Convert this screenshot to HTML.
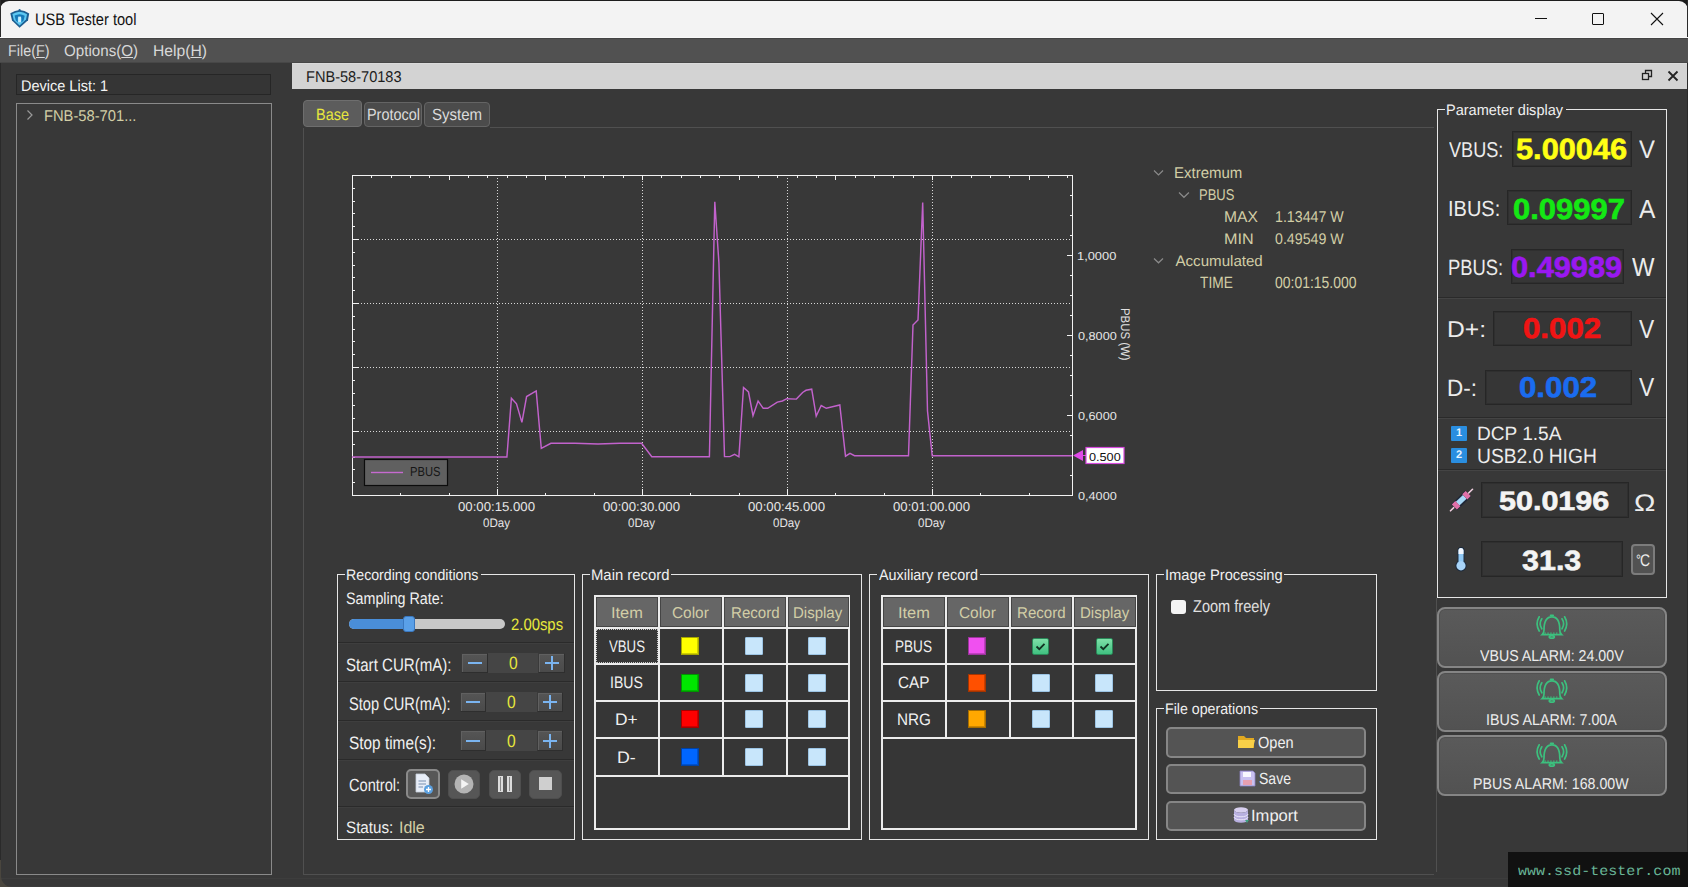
<!DOCTYPE html>
<html><head><meta charset="utf-8">
<style>
*{margin:0;padding:0;box-sizing:border-box}
html,body{width:1688px;height:887px;overflow:hidden;background:#383838;font-family:"Liberation Sans",sans-serif;text-rendering:geometricPrecision}
.a{position:absolute}
.t{position:absolute;white-space:nowrap;line-height:1}
svg{position:absolute;overflow:visible}
</style></head><body>
<div class="a" style="left:0px;top:0px;width:1688px;height:38px;background:#f3f3f3"></div>
<svg style="left:0;top:0" width="1688" height="40"><path d="M0 0H1688V10A9 9 0 0 0 1679 1H9A9 9 0 0 0 0 10Z" fill="#1d1d1d"/></svg>
<div class="a" style="left:0px;top:0px;width:1px;height:887px;background:#2a2a2a"></div>
<div class="a" style="left:1687px;top:0px;width:1px;height:887px;background:#2a2a2a"></div>
<div class="a" style="left:0px;top:878px;width:1688px;height:1px;background:#3d3d3d"></div>
<div class="a" style="left:1px;top:886px;width:1686px;height:1px;background:#3c3c3c"></div>
<svg style="left:0;top:860px" width="12" height="27"><path d="M0 0V27H12A11 11 0 0 1 1 16V0Z" fill="#4a463e"/></svg>
<svg style="left:0;top:0" width="40" height="32" viewBox="0 0 40 32">
<path d="M10.3 13.2Q15 10.2 19.6 9.9Q24.5 10.2 29.2 13.4L28 20.2L19.6 27.8L12 20.6Z" fill="#1d5f92"/>
<path d="M12.4 14Q16 12 19.6 11.8Q23.5 12 27 14.2L26 19.6L19.6 25.6L13.8 20Z" fill="#5cc8f2"/>
<path d="M14.6 15.6Q17 14.4 19.6 14.3Q22.4 14.4 24.7 15.7L23.6 20.4L21.4 22.6V17.6H17.8V22.6L15.8 20.6Z" fill="#1679b8"/>
<rect x="18.2" y="16.6" width="2.8" height="5.6" fill="#c8eeff"/>
<circle cx="19.6" cy="10.2" r="1.1" fill="#1d5f92"/>
</svg>
<div class="t" style="left:34.83px;top:12px;font-size:16.6px;font-weight:normal;font-family:'Liberation Sans',sans-serif;color:#111;transform:scaleX(0.883);transform-origin:0 0;">USB Tester tool</div>
<div class="a" style="left:1535px;top:18px;width:12px;height:1px;background:#111"></div>
<div class="a" style="left:1592px;top:13px;width:12px;height:12px;border:1px solid #111;border-radius:1px"></div>
<svg style="left:1650px;top:12px" width="14" height="14"><path d="M1 1L13 13M13 1L1 13" stroke="#111" stroke-width="1.1"/></svg>
<div class="a" style="left:0px;top:38px;width:1688px;height:25px;background:#515151;border-top:1px solid #434343;border-bottom:1px solid #474747"></div>
<div class="a" style="left:0px;top:37px;width:1688px;height:1px;background:#f8f8f8"></div>
<div class="t" style="left:7.85px;top:44px;font-size:15.8px;font-weight:normal;font-family:'Liberation Sans',sans-serif;color:#d8d8d8;transform:scaleX(0.911);transform-origin:0 0;">File(<u>F</u>)</div>
<div class="t" style="left:64.24px;top:44px;font-size:15.8px;font-weight:normal;font-family:'Liberation Sans',sans-serif;color:#d8d8d8;transform:scaleX(0.959);transform-origin:0 0;">Options(<u>O</u>)</div>
<div class="t" style="left:153.25px;top:44px;font-size:15.8px;font-weight:normal;font-family:'Liberation Sans',sans-serif;color:#d8d8d8;transform:scaleX(0.992);transform-origin:0 0;">Help(<u>H</u>)</div>
<div class="a" style="left:16px;top:74px;width:255px;height:21px;background:#353535;border:1px solid #262626"></div>
<div class="t" style="left:21.34px;top:79px;font-size:15.4px;font-weight:normal;font-family:'Liberation Sans',sans-serif;color:#f4f4f4;transform:scaleX(0.942);transform-origin:0 0;">Device List: 1</div>
<div class="a" style="left:16px;top:103px;width:256px;height:772px;border:1px solid #8a8a8a"></div>
<svg style="left:24.5px;top:109px" width="10" height="12"><path d="M2.5 1.5L7 6L2.5 10.5" fill="none" stroke="#9a9a9a" stroke-width="1.2"/></svg>
<div class="t" style="left:43.82px;top:109px;font-size:15.6px;font-weight:normal;font-family:'Liberation Sans',sans-serif;color:#d2cea6;transform:scaleX(0.944);transform-origin:0 0;">FNB-58-701...</div>
<div class="a" style="left:292px;top:63px;width:1395px;height:26px;background:#d3d3d3;border-top:1px solid #dadada"></div>
<div class="t" style="left:306.23px;top:70px;font-size:15.6px;font-weight:normal;font-family:'Liberation Sans',sans-serif;color:#1c1c1c;transform:scaleX(0.934);transform-origin:0 0;">FNB-58-70183</div>
<svg style="left:1641px;top:69px" width="12" height="12"><rect x="1.5" y="4.5" width="6" height="6" fill="none" stroke="#222" stroke-width="1.3"/><path d="M4.5 4.5V1.5H10.5V7.5H7.5" fill="none" stroke="#222" stroke-width="1.3"/></svg>
<svg style="left:1667px;top:70px" width="12" height="12"><path d="M1.5 1.5L10.5 10.5M10.5 1.5L1.5 10.5" stroke="#222" stroke-width="1.8"/></svg>
<div class="a" style="left:303px;top:100px;width:59px;height:27px;background:#5c5c5c;border:1px solid #6e6e6e;border-radius:4px"></div>
<div class="a" style="left:364px;top:102px;width:58px;height:25px;background:#4b4b4b;border:1px solid #646464;border-radius:4px"></div>
<div class="a" style="left:424px;top:102px;width:66px;height:25px;background:#4b4b4b;border:1px solid #646464;border-radius:4px"></div>
<div class="t" style="left:316.14px;top:107px;font-size:16.3px;font-weight:normal;font-family:'Liberation Sans',sans-serif;color:#e8e83c;transform:scaleX(0.887);transform-origin:0 0;">Base</div>
<div class="t" style="left:367.14px;top:107px;font-size:16.3px;font-weight:normal;font-family:'Liberation Sans',sans-serif;color:#dcdcdc;transform:scaleX(0.886);transform-origin:0 0;">Protocol</div>
<div class="t" style="left:432.25px;top:107px;font-size:16.3px;font-weight:normal;font-family:'Liberation Sans',sans-serif;color:#dcdcdc;transform:scaleX(0.924);transform-origin:0 0;">System</div>
<div class="a" style="left:303px;top:128px;width:1131px;height:747px;border:1px solid #505050;border-right:none;border-top:none"></div>
<div class="a" style="left:490px;top:127px;width:944px;height:1px;background:#505050"></div>
<svg style="left:0;top:0" width="1688" height="887"><path d="M497.5 175V495 M642.5 175V495 M787.5 175V495 M932.5 175V495 M352 239.5H1072 M352 303.5H1072 M352 367.5H1072 M352 431.5H1072" stroke="#d8d8d8" stroke-width="1" stroke-dasharray="1 2" shape-rendering="crispEdges"/><path d="M352 188.5h3 M352 201.5h3 M352 213.5h3 M352 226.5h3 M352 239.5h7 M352 252.5h3 M352 265.5h3 M352 277.5h3 M352 290.5h3 M352 303.5h7 M352 316.5h3 M352 329.5h3 M352 341.5h3 M352 354.5h3 M352 367.5h7 M352 380.5h3 M352 393.5h3 M352 405.5h3 M352 418.5h3 M352 431.5h7 M352 444.5h3 M352 457.5h3 M352 469.5h3 M352 482.5h3 M371.5 175v3 M391.5 175v3 M410.5 175v3 M429.5 175v3 M449.5 175v5 M468.5 175v3 M487.5 175v3 M507.5 175v3 M526.5 175v3 M545.5 175v5 M565.5 175v3 M584.5 175v3 M603.5 175v3 M623.5 175v3 M642.5 175v5 M661.5 175v3 M681.5 175v3 M700.5 175v3 M719.5 175v3 M739.5 175v5 M758.5 175v3 M777.5 175v3 M797.5 175v3 M816.5 175v3 M835.5 175v5 M855.5 175v3 M874.5 175v3 M893.5 175v3 M913.5 175v3 M932.5 175v5 M951.5 175v3 M971.5 175v3 M990.5 175v3 M1009.5 175v3 M1029.5 175v5 M1048.5 175v3 M1067.5 175v3 M400.5 496v-3 M449.5 496v-3 M497.5 496v-7 M545.5 496v-3 M594.5 496v-3 M642.5 496v-7 M690.5 496v-3 M739.5 496v-3 M787.5 496v-7 M835.5 496v-3 M884.5 496v-3 M932.5 496v-7 M980.5 496v-3 M1029.5 496v-3 M1073 195.5h-3 M1073 215.5h-3 M1073 235.5h-3 M1073 255.5h-6 M1073 275.5h-3 M1073 295.5h-3 M1073 315.5h-3 M1073 335.5h-6 M1073 355.5h-3 M1073 375.5h-3 M1073 395.5h-3 M1073 415.5h-6 M1073 435.5h-3 M1073 455.5h-3 M1073 475.5h-3" stroke="#f2f2f2" stroke-width="1" shape-rendering="crispEdges"/><rect x="352.5" y="175.5" width="720" height="320" fill="none" stroke="#f2f2f2" stroke-width="1.2" shape-rendering="crispEdges"/><path d="M352.0 457.0 L506.9 457.0 L511.4 398.2 L516.5 403.8 L521.9 422.4 L526.6 396.5 L536.2 390.9 L541.3 448.4 L550.9 443.3 L575.0 443.2 L598.0 443.9 L620.0 443.3 L641.6 443.3 L651.8 456.8 L709.4 456.8 L714.8 201.7 L718.9 262.6 L724.5 456.6 L729.9 456.6 L734.6 454.4 L738.9 456.8 L743.5 387.5 L748.5 392.0 L753.0 415.7 L758.1 401.0 L763.2 408.3 L767.7 408.3 L777.3 402.1 L782.4 401.0 L786.9 398.7 L796.4 399.1 L802.6 392.5 L806.0 390.3 L811.7 389.2 L816.2 416.2 L821.2 405.5 L826.3 408.3 L839.8 405.0 L845.5 456.2 L850.0 453.4 L854.5 455.7 L908.5 455.7 L913.0 325.0 L918.0 320.0 L922.7 202.6 L927.5 411.0 L932.2 455.7 L1072.0 455.7" fill="none" stroke="#c262cc" stroke-width="1.45" stroke-linejoin="miter"/><path d="M1073 455.5L1083 450V461Z" fill="#e04ae8"/><path d="M1082 455.5H1086" stroke="#e04ae8" stroke-width="1"/><rect x="1086" y="447.5" width="38" height="16" fill="#fff" stroke="#d64ade" stroke-width="1.2"/><rect x="364.5" y="459.5" width="83" height="26" fill="#606060" stroke="#0c0c0c" stroke-width="1.2"/><path d="M371 472.5H403" stroke="#c66ad0" stroke-width="1.4"/></svg>
<div class="t" style="left:409.50px;top:465px;font-size:13.1px;font-weight:normal;font-family:'Liberation Sans',sans-serif;color:#161616;transform:scaleX(0.854);transform-origin:0 0;">PBUS</div>
<div class="t" style="left:1089.09px;top:452px;font-size:11.6px;font-weight:normal;font-family:'Liberation Sans',sans-serif;color:#101010;transform:scaleX(1.093);transform-origin:0 0;">0.500</div>
<div class="t" style="left:457.97px;top:501px;font-size:12.9px;font-weight:normal;font-family:'Liberation Sans',sans-serif;color:#e6e6e6;transform:scaleX(1.023);transform-origin:0 0;">00:00:15.000</div>
<div class="t" style="left:482.94px;top:517px;font-size:12.4px;font-weight:normal;font-family:'Liberation Sans',sans-serif;color:#e6e6e6;transform:scaleX(0.933);transform-origin:0 0;">0Day</div>
<div class="t" style="left:602.97px;top:501px;font-size:12.9px;font-weight:normal;font-family:'Liberation Sans',sans-serif;color:#e6e6e6;transform:scaleX(1.023);transform-origin:0 0;">00:00:30.000</div>
<div class="t" style="left:627.94px;top:517px;font-size:12.4px;font-weight:normal;font-family:'Liberation Sans',sans-serif;color:#e6e6e6;transform:scaleX(0.933);transform-origin:0 0;">0Day</div>
<div class="t" style="left:747.97px;top:501px;font-size:12.9px;font-weight:normal;font-family:'Liberation Sans',sans-serif;color:#e6e6e6;transform:scaleX(1.023);transform-origin:0 0;">00:00:45.000</div>
<div class="t" style="left:772.94px;top:517px;font-size:12.4px;font-weight:normal;font-family:'Liberation Sans',sans-serif;color:#e6e6e6;transform:scaleX(0.933);transform-origin:0 0;">0Day</div>
<div class="t" style="left:892.97px;top:501px;font-size:12.9px;font-weight:normal;font-family:'Liberation Sans',sans-serif;color:#e6e6e6;transform:scaleX(1.023);transform-origin:0 0;">00:01:00.000</div>
<div class="t" style="left:917.94px;top:517px;font-size:12.4px;font-weight:normal;font-family:'Liberation Sans',sans-serif;color:#e6e6e6;transform:scaleX(0.933);transform-origin:0 0;">0Day</div>
<div class="t" style="left:1077.37px;top:251px;font-size:11.6px;font-weight:normal;font-family:'Liberation Sans',sans-serif;color:#e6e6e6;transform:scaleX(1.108);transform-origin:0 0;">1,0000</div>
<div class="t" style="left:1077.89px;top:331px;font-size:11.6px;font-weight:normal;font-family:'Liberation Sans',sans-serif;color:#e6e6e6;transform:scaleX(1.093);transform-origin:0 0;">0,8000</div>
<div class="t" style="left:1077.89px;top:411px;font-size:11.6px;font-weight:normal;font-family:'Liberation Sans',sans-serif;color:#e6e6e6;transform:scaleX(1.093);transform-origin:0 0;">0,6000</div>
<div class="t" style="left:1077.89px;top:491px;font-size:11.6px;font-weight:normal;font-family:'Liberation Sans',sans-serif;color:#e6e6e6;transform:scaleX(1.093);transform-origin:0 0;">0,4000</div>
<div class="t" style="left:1119px;top:308px;font-size:12.5px;color:#e0e0e0;transform-origin:0 0;transform:translate(12px,0) rotate(90deg) scaleX(0.91)">PBUS (W)</div>
<svg style="left:1153.2px;top:168.5px" width="11" height="7.4"><path d="M1 1.5L5.5 5.9L10 1.5" fill="none" stroke="#8a8a8a" stroke-width="1.2"/></svg>
<svg style="left:1178px;top:190.8px" width="11.9" height="7.8"><path d="M1 1.5L5.95 6.3L10.9 1.5" fill="none" stroke="#8a8a8a" stroke-width="1.2"/></svg>
<svg style="left:1153.2px;top:256.5px" width="11" height="7.3"><path d="M1 1.5L5.5 5.8L10 1.5" fill="none" stroke="#8a8a8a" stroke-width="1.2"/></svg>
<div class="t" style="left:1174.30px;top:166px;font-size:15.6px;font-weight:normal;font-family:'Liberation Sans',sans-serif;color:#d2cea6;transform:scaleX(0.962);transform-origin:0 0;">Extremum</div>
<div class="t" style="left:1199.36px;top:188px;font-size:15.6px;font-weight:normal;font-family:'Liberation Sans',sans-serif;color:#d2cea6;transform:scaleX(0.833);transform-origin:0 0;">PBUS</div>
<div class="t" style="left:1224.06px;top:210px;font-size:15.6px;font-weight:normal;font-family:'Liberation Sans',sans-serif;color:#d2cea6;">MAX</div>
<div class="t" style="left:1274.86px;top:210px;font-size:15.6px;font-weight:normal;font-family:'Liberation Sans',sans-serif;color:#d2cea6;transform:scaleX(0.911);transform-origin:0 0;">1.13447 W</div>
<div class="t" style="left:1224.01px;top:232px;font-size:15.4px;font-weight:normal;font-family:'Liberation Sans',sans-serif;color:#d2cea6;transform:scaleX(1.050);transform-origin:0 0;">MIN</div>
<div class="t" style="left:1274.83px;top:232px;font-size:15.4px;font-weight:normal;font-family:'Liberation Sans',sans-serif;color:#d2cea6;transform:scaleX(0.923);transform-origin:0 0;">0.49549 W</div>
<div class="t" style="left:1175.50px;top:254px;font-size:15.1px;font-weight:normal;font-family:'Liberation Sans',sans-serif;color:#d2cea6;">Accumulated</div>
<div class="t" style="left:1200.13px;top:275px;font-size:16.3px;font-weight:normal;font-family:'Liberation Sans',sans-serif;color:#d2cea6;transform:scaleX(0.843);transform-origin:0 0;">TIME</div>
<div class="t" style="left:1274.84px;top:275px;font-size:16.3px;font-weight:normal;font-family:'Liberation Sans',sans-serif;color:#d2cea6;transform:scaleX(0.857);transform-origin:0 0;">00:01:15.000</div>
<div class="a" style="left:1437px;top:109px;width:230px;height:489px;border:1px solid #e6e6e6"></div>
<div class="a" style="left:1445px;top:107px;width:120.90000000000009px;height:5px;background:#383838"></div>
<div class="t" style="left:1445.84px;top:103px;font-size:15.1px;font-weight:normal;font-family:'Liberation Sans',sans-serif;color:#f0f0f0;transform:scaleX(0.962);transform-origin:0 0;">Parameter display</div>
<div class="a" style="left:1438px;top:297px;width:228px;height:1px;background:#2a2a2a"></div>
<div class="a" style="left:1438px;top:298px;width:228px;height:1px;background:#444"></div>
<div class="a" style="left:1438px;top:417px;width:228px;height:1px;background:#2a2a2a"></div>
<div class="a" style="left:1438px;top:418px;width:228px;height:1px;background:#444"></div>
<div class="a" style="left:1438px;top:469px;width:228px;height:1px;background:#2a2a2a"></div>
<div class="a" style="left:1438px;top:470px;width:228px;height:1px;background:#444"></div>
<div class="t" style="left:1449.42px;top:140px;font-size:21.5px;font-weight:normal;font-family:'Liberation Sans',sans-serif;color:#ececec;transform:scaleX(0.842);transform-origin:0 0;">VBUS:</div>
<div class="a" style="left:1512px;top:131px;width:120px;height:36px;background:#363636;border:1px solid #262626;box-shadow:inset 0 0 0 1px #2f2f2f"></div>
<div class="t" style="left:1515.78px;top:136px;font-size:29.2px;font-weight:bold;font-family:'Liberation Sans',sans-serif;color:#ffff14;transform:scaleX(1.054);transform-origin:0 0;-webkit-text-stroke:0.6px #ffff14">5.00046</div>
<div class="t" style="left:1638.96px;top:138px;font-size:25.4px;font-weight:normal;font-family:'Liberation Sans',sans-serif;color:#ececec;transform:scaleX(0.939);transform-origin:0 0;">V</div>
<div class="t" style="left:1447.80px;top:198px;font-size:21.9px;font-weight:normal;font-family:'Liberation Sans',sans-serif;color:#ececec;transform:scaleX(0.913);transform-origin:0 0;">IBUS:</div>
<div class="a" style="left:1507px;top:190px;width:125px;height:35px;background:#363636;border:1px solid #262626;box-shadow:inset 0 0 0 1px #2f2f2f"></div>
<div class="t" style="left:1513.16px;top:196px;font-size:29.1px;font-weight:bold;font-family:'Liberation Sans',sans-serif;color:#14e814;transform:scaleX(1.064);transform-origin:0 0;-webkit-text-stroke:0.6px #14e814">0.09997</div>
<div class="t" style="left:1639.20px;top:196px;font-size:26.2px;font-weight:normal;font-family:'Liberation Sans',sans-serif;color:#ececec;transform:scaleX(0.937);transform-origin:0 0;">A</div>
<div class="t" style="left:1448.13px;top:257px;font-size:22.1px;font-weight:normal;font-family:'Liberation Sans',sans-serif;color:#ececec;transform:scaleX(0.833);transform-origin:0 0;">PBUS:</div>
<div class="a" style="left:1511px;top:249px;width:113px;height:35px;background:#363636;border:1px solid #262626;box-shadow:inset 0 0 0 1px #2f2f2f"></div>
<div class="t" style="left:1511.27px;top:254px;font-size:29.1px;font-weight:bold;font-family:'Liberation Sans',sans-serif;color:#9a18f0;transform:scaleX(1.057);transform-origin:0 0;-webkit-text-stroke:0.6px #9a18f0">0.49989</div>
<div class="t" style="left:1632.30px;top:254px;font-size:26.2px;font-weight:normal;font-family:'Liberation Sans',sans-serif;color:#ececec;transform:scaleX(0.910);transform-origin:0 0;">W</div>
<div class="t" style="left:1447.23px;top:318px;font-size:22.8px;font-weight:normal;font-family:'Liberation Sans',sans-serif;color:#ececec;transform:scaleX(1.081);transform-origin:0 0;">D+:</div>
<div class="a" style="left:1493px;top:311px;width:139px;height:35px;background:#363636;border:1px solid #262626;box-shadow:inset 0 0 0 1px #2f2f2f"></div>
<div class="t" style="left:1523.15px;top:315px;font-size:28.5px;font-weight:bold;font-family:'Liberation Sans',sans-serif;color:#f01414;transform:scaleX(1.096);transform-origin:0 0;-webkit-text-stroke:0.6px #f01414">0.002</div>
<div class="t" style="left:1638.77px;top:316px;font-size:26.0px;font-weight:normal;font-family:'Liberation Sans',sans-serif;color:#ececec;transform:scaleX(0.876);transform-origin:0 0;">V</div>
<div class="t" style="left:1447.40px;top:377px;font-size:23.5px;font-weight:normal;font-family:'Liberation Sans',sans-serif;color:#ececec;transform:scaleX(0.957);transform-origin:0 0;">D-:</div>
<div class="a" style="left:1485px;top:370px;width:147px;height:35px;background:#363636;border:1px solid #262626;box-shadow:inset 0 0 0 1px #2f2f2f"></div>
<div class="t" style="left:1518.95px;top:374px;font-size:28.5px;font-weight:bold;font-family:'Liberation Sans',sans-serif;color:#1a6cf0;transform:scaleX(1.096);transform-origin:0 0;-webkit-text-stroke:0.6px #1a6cf0">0.002</div>
<div class="t" style="left:1638.77px;top:374px;font-size:26.0px;font-weight:normal;font-family:'Liberation Sans',sans-serif;color:#ececec;transform:scaleX(0.876);transform-origin:0 0;">V</div>
<div class="a" style="left:1451px;top:426px;width:16px;height:15px;background:#2a8ee0;border-radius:1px"></div>
<div class="t" style="left:1451px;top:428px;width:16px;text-align:center;font-size:11px;font-weight:bold;color:#e8f4ff">1</div>
<div class="a" style="left:1451px;top:448px;width:16px;height:15px;background:#2a8ee0;border-radius:1px"></div>
<div class="t" style="left:1451px;top:450px;width:16px;text-align:center;font-size:11px;font-weight:bold;color:#e8f4ff">2</div>
<div class="t" style="left:1476.77px;top:425px;font-size:19.3px;font-weight:normal;font-family:'Liberation Sans',sans-serif;color:#ececec;transform:scaleX(0.989);transform-origin:0 0;">DCP 1.5A</div>
<div class="t" style="left:1476.76px;top:447px;font-size:20.6px;font-weight:normal;font-family:'Liberation Sans',sans-serif;color:#ececec;transform:scaleX(0.935);transform-origin:0 0;">USB2.0 HIGH</div>
<svg style="left:1444px;top:484px" width="36" height="36" viewBox="0 0 36 36">
<path d="M6.5 26.8L28.5 5.3" stroke="#f0d0e0" stroke-width="1.6" stroke-linecap="round"/>
<path d="M10.2 23.2L24.2 9.6" stroke="#202838" stroke-width="8.5"/>
<path d="M13.6 19.7L20.8 12.9" stroke="#a8d8f8" stroke-width="5.2"/>
<path d="M10.4 23L13.8 19.6M20.8 12.9L24.2 9.5" stroke="#e070a8" stroke-width="7.2"/>
</svg>
<div class="a" style="left:1481px;top:482px;width:148px;height:36px;background:#363636;border:1px solid #262626;box-shadow:inset 0 0 0 1px #2f2f2f"></div>
<div class="t" style="left:1499.08px;top:488px;font-size:26.5px;font-weight:bold;font-family:'Liberation Sans',sans-serif;color:#f4f4f4;transform:scaleX(1.151);transform-origin:0 0;-webkit-text-stroke:0.6px #f4f4f4">50.0196</div>
<div class="t" style="left:1634.45px;top:492px;font-size:23.9px;font-weight:normal;font-family:'Liberation Sans',sans-serif;color:#ececec;transform:scaleX(1.199);transform-origin:0 0;">Ω</div>
<svg style="left:1454px;top:546px" width="14" height="27" viewBox="0 0 14 27">
<rect x="3.5" y="1" width="7" height="18" rx="3.5" fill="#1c2a3c"/><circle cx="7" cy="19.8" r="5.6" fill="#1c2a3c"/>
<rect x="4.5" y="2" width="5" height="16" rx="2.5" fill="#90c8f4"/>
<path d="M4.5 8V4.5A2.5 2.5 0 0 1 9.5 4.5V8Z" fill="#f4f8ff"/>
<circle cx="7" cy="19.8" r="4.6" fill="#a8d4f8"/>
</svg>
<div class="a" style="left:1481px;top:541px;width:142px;height:36px;background:#363636;border:1px solid #262626;box-shadow:inset 0 0 0 1px #2f2f2f"></div>
<div class="t" style="left:1522.09px;top:547px;font-size:27.9px;font-weight:bold;font-family:'Liberation Sans',sans-serif;color:#f4f4f4;transform:scaleX(1.092);transform-origin:0 0;-webkit-text-stroke:0.6px #f4f4f4">31.3</div>
<div class="a" style="left:1631px;top:544px;width:24px;height:31px;background:#525252;border:2px solid #7c7c7c;border-radius:4px"></div>
<div class="t" style="left:1635.5px;top:552px;font-size:17px;color:#ececec;transform:scaleX(0.82);transform-origin:0 0"><span style="font-size:15px;vertical-align:1px;margin-right:-1px">°</span>C</div>
<div class="a" style="left:1437px;top:607px;width:230px;height:61px;background:linear-gradient(#5a5a5a,#525252);border:2px solid #858585;border-radius:8px;box-shadow:inset 0 0 0 1px #505050"></div>
<svg style="left:1532px;top:611px" width="40" height="30" viewBox="0 0 40 30">
<g fill="none" stroke="#3cc07e" stroke-width="1.7" stroke-linecap="round">
<path d="M12 19C12 10 14.2 5.9 19.9 5.9C25.6 5.9 27.8 10 27.8 19Q27.8 22 29.6 23.6H10.2Q12 22 12 19"/>
<path d="M18.6 4.4H21.2"/>
<ellipse cx="19.8" cy="25.9" rx="2.5" ry="1.3"/>
<path d="M7.2 5.8Q3 12.8 7.2 20"/><path d="M9.8 7.8Q6.6 12.8 9.8 17.8"/>
<path d="M32.6 5.8Q36.8 12.8 32.6 20"/><path d="M30 7.8Q33.2 12.8 30 17.8"/>
</g><path d="M12.5 22.2H27.5" stroke="#3cc07e" stroke-width="1.3" stroke-dasharray="1.3 1.6"/></svg>
<div class="t" style="left:1479.86px;top:649px;font-size:15.7px;font-weight:normal;font-family:'Liberation Sans',sans-serif;color:#ececec;transform:scaleX(0.905);transform-origin:0 0;">VBUS ALARM: 24.00V</div>
<div class="a" style="left:1437px;top:671px;width:230px;height:61px;background:linear-gradient(#5a5a5a,#525252);border:2px solid #858585;border-radius:8px;box-shadow:inset 0 0 0 1px #505050"></div>
<svg style="left:1532px;top:675px" width="40" height="30" viewBox="0 0 40 30">
<g fill="none" stroke="#3cc07e" stroke-width="1.7" stroke-linecap="round">
<path d="M12 19C12 10 14.2 5.9 19.9 5.9C25.6 5.9 27.8 10 27.8 19Q27.8 22 29.6 23.6H10.2Q12 22 12 19"/>
<path d="M18.6 4.4H21.2"/>
<ellipse cx="19.8" cy="25.9" rx="2.5" ry="1.3"/>
<path d="M7.2 5.8Q3 12.8 7.2 20"/><path d="M9.8 7.8Q6.6 12.8 9.8 17.8"/>
<path d="M32.6 5.8Q36.8 12.8 32.6 20"/><path d="M30 7.8Q33.2 12.8 30 17.8"/>
</g><path d="M12.5 22.2H27.5" stroke="#3cc07e" stroke-width="1.3" stroke-dasharray="1.3 1.6"/></svg>
<div class="t" style="left:1486.32px;top:713px;font-size:15.7px;font-weight:normal;font-family:'Liberation Sans',sans-serif;color:#ececec;transform:scaleX(0.909);transform-origin:0 0;">IBUS ALARM: 7.00A</div>
<div class="a" style="left:1437px;top:735px;width:230px;height:61px;background:linear-gradient(#5a5a5a,#525252);border:2px solid #858585;border-radius:8px;box-shadow:inset 0 0 0 1px #505050"></div>
<svg style="left:1532px;top:739px" width="40" height="30" viewBox="0 0 40 30">
<g fill="none" stroke="#3cc07e" stroke-width="1.7" stroke-linecap="round">
<path d="M12 19C12 10 14.2 5.9 19.9 5.9C25.6 5.9 27.8 10 27.8 19Q27.8 22 29.6 23.6H10.2Q12 22 12 19"/>
<path d="M18.6 4.4H21.2"/>
<ellipse cx="19.8" cy="25.9" rx="2.5" ry="1.3"/>
<path d="M7.2 5.8Q3 12.8 7.2 20"/><path d="M9.8 7.8Q6.6 12.8 9.8 17.8"/>
<path d="M32.6 5.8Q36.8 12.8 32.6 20"/><path d="M30 7.8Q33.2 12.8 30 17.8"/>
</g><path d="M12.5 22.2H27.5" stroke="#3cc07e" stroke-width="1.3" stroke-dasharray="1.3 1.6"/></svg>
<div class="t" style="left:1473.26px;top:777px;font-size:15.7px;font-weight:normal;font-family:'Liberation Sans',sans-serif;color:#ececec;transform:scaleX(0.906);transform-origin:0 0;">PBUS ALARM: 168.00W</div>
<div class="a" style="left:1436px;top:598px;width:1px;height:274px;background:#505050"></div>
<div class="a" style="left:1508px;top:852px;width:180px;height:35px;background:#111"></div>
<div class="t" style="left:1517.55px;top:866px;font-size:13.8px;font-weight:normal;font-family:'Liberation Mono',monospace;color:#68b496;transform:scaleX(1.090);transform-origin:0 0;">www.ssd-tester.com</div>
<div class="a" style="left:337px;top:574px;width:238px;height:266px;border:1px solid #e6e6e6"></div>
<div class="a" style="left:345px;top:572px;width:135.8px;height:5px;background:#383838"></div>
<div class="t" style="left:345.87px;top:568px;font-size:15.3px;font-weight:normal;font-family:'Liberation Sans',sans-serif;color:#f0f0f0;transform:scaleX(0.927);transform-origin:0 0;">Recording conditions</div>
<div class="t" style="left:346.29px;top:591px;font-size:16.6px;font-weight:normal;font-family:'Liberation Sans',sans-serif;color:#f0f0f0;transform:scaleX(0.861);transform-origin:0 0;">Sampling Rate:</div>
<div class="a" style="left:349px;top:619px;width:156px;height:10px;background:#c8c8c8;border-radius:5px"></div>
<div class="a" style="left:349px;top:619px;width:60px;height:10px;background:#4a8ed8;border-radius:5px 0 0 5px"></div>
<div class="a" style="left:403px;top:616px;width:12px;height:16px;background:#5aa0e8;border:1px solid #3a78c0;border-radius:3px"></div>
<div class="t" style="left:511.36px;top:617px;font-size:16.6px;font-weight:normal;font-family:'Liberation Sans',sans-serif;color:#e8e83c;transform:scaleX(0.896);transform-origin:0 0;">2.00sps</div>
<div class="a" style="left:338px;top:642px;width:236px;height:1px;background:#2a2a2a"></div>
<div class="a" style="left:338px;top:643px;width:236px;height:1px;background:#3e3e3e"></div>
<div class="a" style="left:338px;top:681px;width:236px;height:1px;background:#2a2a2a"></div>
<div class="a" style="left:338px;top:682px;width:236px;height:1px;background:#3e3e3e"></div>
<div class="a" style="left:338px;top:720px;width:236px;height:1px;background:#2a2a2a"></div>
<div class="a" style="left:338px;top:721px;width:236px;height:1px;background:#3e3e3e"></div>
<div class="a" style="left:338px;top:759px;width:236px;height:1px;background:#2a2a2a"></div>
<div class="a" style="left:338px;top:760px;width:236px;height:1px;background:#3e3e3e"></div>
<div class="a" style="left:338px;top:806px;width:236px;height:1px;background:#2a2a2a"></div>
<div class="a" style="left:338px;top:807px;width:236px;height:1px;background:#3e3e3e"></div>
<div class="t" style="left:346.25px;top:656px;font-size:18.0px;font-weight:normal;font-family:'Liberation Sans',sans-serif;color:#f0f0f0;transform:scaleX(0.837);transform-origin:0 0;">Start CUR(mA):</div>
<div class="a" style="left:461px;top:653px;width:104px;height:20px;background:#454545"></div>
<div class="a" style="left:461px;top:653px;width:27px;height:20px;background:linear-gradient(#555,#4a4a4a);border:1px solid #3a3a3a;border-right-color:#2e2e2e;border-bottom-color:#2e2e2e;box-shadow:inset 1px 1px 0 #606060"></div>
<svg style="left:464.5px;top:653.0px" width="20" height="20"><path d="M3 10H17" stroke="#7ab4f0" stroke-width="2"/></svg>
<div class="a" style="left:538px;top:653px;width:27px;height:20px;background:linear-gradient(#555,#4a4a4a);border:1px solid #3a3a3a;border-right-color:#2e2e2e;border-bottom-color:#2e2e2e;box-shadow:inset 1px 1px 0 #606060"></div>
<svg style="left:541.5px;top:653.0px" width="20" height="20"><path d="M3 10H17M10 3V17" stroke="#7ab4f0" stroke-width="2"/></svg>
<div class="t" style="left:508.88px;top:655px;font-size:17.9px;font-weight:normal;font-family:'Liberation Sans',sans-serif;color:#e8e83c;transform:scaleX(0.873);transform-origin:0 0;">0</div>
<div class="t" style="left:348.87px;top:695px;font-size:18.2px;font-weight:normal;font-family:'Liberation Sans',sans-serif;color:#f0f0f0;transform:scaleX(0.805);transform-origin:0 0;">Stop CUR(mA):</div>
<div class="a" style="left:460px;top:692px;width:103px;height:20px;background:#454545"></div>
<div class="a" style="left:460px;top:692px;width:26px;height:20px;background:linear-gradient(#555,#4a4a4a);border:1px solid #3a3a3a;border-right-color:#2e2e2e;border-bottom-color:#2e2e2e;box-shadow:inset 1px 1px 0 #606060"></div>
<svg style="left:463.0px;top:692.0px" width="20" height="20"><path d="M3 10H17" stroke="#7ab4f0" stroke-width="2"/></svg>
<div class="a" style="left:537px;top:692px;width:26px;height:20px;background:linear-gradient(#555,#4a4a4a);border:1px solid #3a3a3a;border-right-color:#2e2e2e;border-bottom-color:#2e2e2e;box-shadow:inset 1px 1px 0 #606060"></div>
<svg style="left:540.0px;top:692.0px" width="20" height="20"><path d="M3 10H17M10 3V17" stroke="#7ab4f0" stroke-width="2"/></svg>
<div class="t" style="left:506.88px;top:694px;font-size:17.9px;font-weight:normal;font-family:'Liberation Sans',sans-serif;color:#e8e83c;transform:scaleX(0.873);transform-origin:0 0;">0</div>
<div class="t" style="left:348.83px;top:734px;font-size:18.0px;font-weight:normal;font-family:'Liberation Sans',sans-serif;color:#f0f0f0;transform:scaleX(0.854);transform-origin:0 0;">Stop time(s):</div>
<div class="a" style="left:460px;top:730px;width:103px;height:21px;background:#454545"></div>
<div class="a" style="left:460px;top:730px;width:26px;height:21px;background:linear-gradient(#555,#4a4a4a);border:1px solid #3a3a3a;border-right-color:#2e2e2e;border-bottom-color:#2e2e2e;box-shadow:inset 1px 1px 0 #606060"></div>
<svg style="left:463.0px;top:730.5px" width="20" height="20"><path d="M3 10H17" stroke="#7ab4f0" stroke-width="2"/></svg>
<div class="a" style="left:537px;top:730px;width:26px;height:21px;background:linear-gradient(#555,#4a4a4a);border:1px solid #3a3a3a;border-right-color:#2e2e2e;border-bottom-color:#2e2e2e;box-shadow:inset 1px 1px 0 #606060"></div>
<svg style="left:540.0px;top:730.5px" width="20" height="20"><path d="M3 10H17M10 3V17" stroke="#7ab4f0" stroke-width="2"/></svg>
<div class="t" style="left:506.88px;top:733px;font-size:17.9px;font-weight:normal;font-family:'Liberation Sans',sans-serif;color:#e8e83c;transform:scaleX(0.873);transform-origin:0 0;">0</div>
<div class="t" style="left:348.87px;top:777px;font-size:17.6px;font-weight:normal;font-family:'Liberation Sans',sans-serif;color:#f0f0f0;transform:scaleX(0.830);transform-origin:0 0;">Control:</div>
<div class="a" style="left:406px;top:769px;width:34px;height:30px;background:#575757;border:2px solid #8a8a8a;border-radius:5px"></div>
<div class="a" style="left:448px;top:770px;width:32px;height:29px;background:#565656;border:1px solid #4e4e4e;border-radius:5px"></div>
<div class="a" style="left:489px;top:770px;width:32px;height:29px;background:#565656;border:1px solid #4e4e4e;border-radius:5px"></div>
<div class="a" style="left:529px;top:770px;width:33px;height:29px;background:#565656;border:1px solid #4e4e4e;border-radius:5px"></div>
<svg style="left:413px;top:772px" width="22" height="24" viewBox="0 0 22 24">
<path d="M3 2H12L16 6V20H3Z" fill="#e8eef8" stroke="#c8d0dc" stroke-width="0.8"/>
<path d="M5.5 9H13M5.5 12H13M5.5 15H10" stroke="#7890b0" stroke-width="1.2"/>
<circle cx="15.5" cy="17.5" r="4.5" fill="#5ba0e0"/><path d="M15.5 15V20M13 17.5H18" stroke="#fff" stroke-width="1.3"/>
</svg>
<svg style="left:453px;top:774px" width="22" height="20"><circle cx="11" cy="10" r="9.5" fill="#b4b4b4"/><path d="M8.2 5.2L15.8 10L8.2 14.8Z" fill="#f4f4f4"/></svg>
<svg style="left:495px;top:775px" width="20" height="18"><rect x="3" y="1" width="5" height="16" fill="#dcdcdc"/><rect x="12" y="1" width="5" height="16" fill="#dcdcdc"/><path d="M5.5 2V16M14.5 2V16" stroke="#888" stroke-width="1"/></svg>
<div class="a" style="left:539px;top:777px;width:13px;height:13px;background:#cfcfcf"></div>
<div class="t" style="left:346.24px;top:820px;font-size:16.6px;font-weight:normal;font-family:'Liberation Sans',sans-serif;color:#f0f0f0;transform:scaleX(0.915);transform-origin:0 0;">Status:</div>
<div class="t" style="left:398.86px;top:820px;font-size:16.6px;font-weight:normal;font-family:'Liberation Sans',sans-serif;color:#d2cea6;transform:scaleX(0.961);transform-origin:0 0;">Idle</div>
<div class="a" style="left:582px;top:574px;width:280px;height:266px;border:1px solid #e6e6e6"></div>
<div class="a" style="left:590px;top:572px;width:81.20000000000005px;height:5px;background:#383838"></div>
<div class="t" style="left:590.81px;top:568px;font-size:15.3px;font-weight:normal;font-family:'Liberation Sans',sans-serif;color:#f0f0f0;transform:scaleX(0.971);transform-origin:0 0;">Main record</div>
<div class="a" style="left:594px;top:595px;width:256px;height:235px;border:2px solid #ececec;background:#363636"></div>
<div class="a" style="left:596px;top:597px;width:62px;height:30px;background:#666;border:1px solid #454545"></div>
<div class="a" style="left:660px;top:597px;width:62px;height:30px;background:#666;border:1px solid #454545"></div>
<div class="a" style="left:724px;top:597px;width:62px;height:30px;background:#666;border:1px solid #454545"></div>
<div class="a" style="left:788px;top:597px;width:61px;height:30px;background:#666;border:1px solid #454545"></div>
<div class="a" style="left:658px;top:596px;width:2px;height:180px;background:#ececec"></div>
<div class="a" style="left:722px;top:596px;width:2px;height:180px;background:#ececec"></div>
<div class="a" style="left:786px;top:596px;width:2px;height:180px;background:#ececec"></div>
<div class="a" style="left:594px;top:627px;width:256px;height:2px;background:#ececec"></div>
<div class="a" style="left:594px;top:663px;width:256px;height:2px;background:#ececec"></div>
<div class="a" style="left:594px;top:700px;width:256px;height:2px;background:#ececec"></div>
<div class="a" style="left:594px;top:737px;width:256px;height:2px;background:#ececec"></div>
<div class="a" style="left:594px;top:775px;width:256px;height:2px;background:#ececec"></div>
<div class="t" style="left:610.82px;top:606px;font-size:15.7px;font-weight:normal;font-family:'Liberation Sans',sans-serif;color:#d2cea6;transform:scaleX(1.046);transform-origin:0 0;">Item</div>
<div class="t" style="left:672.28px;top:606px;font-size:15.7px;font-weight:normal;font-family:'Liberation Sans',sans-serif;color:#d2cea6;transform:scaleX(0.981);transform-origin:0 0;">Color</div>
<div class="t" style="left:730.59px;top:606px;font-size:15.7px;font-weight:normal;font-family:'Liberation Sans',sans-serif;color:#d2cea6;transform:scaleX(0.960);transform-origin:0 0;">Record</div>
<div class="t" style="left:793.25px;top:606px;font-size:15.7px;font-weight:normal;font-family:'Liberation Sans',sans-serif;color:#d2cea6;transform:scaleX(0.957);transform-origin:0 0;">Display</div>
<div class="t" style="left:609.22px;top:639px;font-size:16.6px;font-weight:normal;font-family:'Liberation Sans',sans-serif;color:#f0f0f0;transform:scaleX(0.796);transform-origin:0 0;">VBUS</div>
<div class="a" style="left:681px;top:637px;width:18px;height:18px;background:#ffff00;border:1px solid rgba(0,0,0,0.35);box-shadow:inset -1px -1px 0 rgba(0,0,0,0.2)"></div>
<div class="a" style="left:745px;top:637px;width:18px;height:18px;background:#c8e6fb;border:1px solid #9cc4e4;border-radius:1px"></div>
<div class="a" style="left:808px;top:637px;width:18px;height:18px;background:#c8e6fb;border:1px solid #9cc4e4;border-radius:1px"></div>
<div class="t" style="left:610.23px;top:675px;font-size:16.6px;font-weight:normal;font-family:'Liberation Sans',sans-serif;color:#f0f0f0;transform:scaleX(0.849);transform-origin:0 0;">IBUS</div>
<div class="a" style="left:681px;top:674px;width:18px;height:18px;background:#00e600;border:1px solid rgba(0,0,0,0.35);box-shadow:inset -1px -1px 0 rgba(0,0,0,0.2)"></div>
<div class="a" style="left:745px;top:674px;width:18px;height:18px;background:#c8e6fb;border:1px solid #9cc4e4;border-radius:1px"></div>
<div class="a" style="left:808px;top:674px;width:18px;height:18px;background:#c8e6fb;border:1px solid #9cc4e4;border-radius:1px"></div>
<div class="t" style="left:615.36px;top:712px;font-size:16.6px;font-weight:normal;font-family:'Liberation Sans',sans-serif;color:#f0f0f0;transform:scaleX(1.047);transform-origin:0 0;">D+</div>
<div class="a" style="left:681px;top:710px;width:18px;height:18px;background:#ff0000;border:1px solid rgba(0,0,0,0.35);box-shadow:inset -1px -1px 0 rgba(0,0,0,0.2)"></div>
<div class="a" style="left:745px;top:710px;width:18px;height:18px;background:#c8e6fb;border:1px solid #9cc4e4;border-radius:1px"></div>
<div class="a" style="left:808px;top:710px;width:18px;height:18px;background:#c8e6fb;border:1px solid #9cc4e4;border-radius:1px"></div>
<div class="t" style="left:617.33px;top:750px;font-size:16.6px;font-weight:normal;font-family:'Liberation Sans',sans-serif;color:#f0f0f0;transform:scaleX(1.069);transform-origin:0 0;">D-</div>
<div class="a" style="left:681px;top:748px;width:18px;height:18px;background:#0066ff;border:1px solid rgba(0,0,0,0.35);box-shadow:inset -1px -1px 0 rgba(0,0,0,0.2)"></div>
<div class="a" style="left:745px;top:748px;width:18px;height:18px;background:#c8e6fb;border:1px solid #9cc4e4;border-radius:1px"></div>
<div class="a" style="left:808px;top:748px;width:18px;height:18px;background:#c8e6fb;border:1px solid #9cc4e4;border-radius:1px"></div>
<div class="a" style="left:596px;top:629px;width:62px;height:34px;border:1px dotted #c8c8c8"></div>
<div class="a" style="left:869px;top:574px;width:280px;height:266px;border:1px solid #e6e6e6"></div>
<div class="a" style="left:877px;top:572px;width:103px;height:5px;background:#383838"></div>
<div class="t" style="left:879.00px;top:568px;font-size:15.3px;font-weight:normal;font-family:'Liberation Sans',sans-serif;color:#f0f0f0;transform:scaleX(0.939);transform-origin:0 0;">Auxiliary record</div>
<div class="a" style="left:881px;top:595px;width:256px;height:235px;border:2px solid #ececec;background:#363636"></div>
<div class="a" style="left:883px;top:597px;width:62px;height:30px;background:#666;border:1px solid #454545"></div>
<div class="a" style="left:947px;top:597px;width:62px;height:30px;background:#666;border:1px solid #454545"></div>
<div class="a" style="left:1011px;top:597px;width:61px;height:30px;background:#666;border:1px solid #454545"></div>
<div class="a" style="left:1074px;top:597px;width:62px;height:30px;background:#666;border:1px solid #454545"></div>
<div class="a" style="left:945px;top:596px;width:2px;height:142px;background:#ececec"></div>
<div class="a" style="left:1009px;top:596px;width:2px;height:142px;background:#ececec"></div>
<div class="a" style="left:1072px;top:596px;width:2px;height:142px;background:#ececec"></div>
<div class="a" style="left:881px;top:627px;width:256px;height:2px;background:#ececec"></div>
<div class="a" style="left:881px;top:663px;width:256px;height:2px;background:#ececec"></div>
<div class="a" style="left:881px;top:700px;width:256px;height:2px;background:#ececec"></div>
<div class="a" style="left:881px;top:737px;width:256px;height:2px;background:#ececec"></div>
<div class="t" style="left:897.82px;top:606px;font-size:15.7px;font-weight:normal;font-family:'Liberation Sans',sans-serif;color:#d2cea6;transform:scaleX(1.046);transform-origin:0 0;">Item</div>
<div class="t" style="left:959.28px;top:606px;font-size:15.7px;font-weight:normal;font-family:'Liberation Sans',sans-serif;color:#d2cea6;transform:scaleX(0.981);transform-origin:0 0;">Color</div>
<div class="t" style="left:1017.09px;top:606px;font-size:15.7px;font-weight:normal;font-family:'Liberation Sans',sans-serif;color:#d2cea6;transform:scaleX(0.960);transform-origin:0 0;">Record</div>
<div class="t" style="left:1079.75px;top:606px;font-size:15.7px;font-weight:normal;font-family:'Liberation Sans',sans-serif;color:#d2cea6;transform:scaleX(0.957);transform-origin:0 0;">Display</div>
<div class="t" style="left:895.26px;top:639px;font-size:16.6px;font-weight:normal;font-family:'Liberation Sans',sans-serif;color:#f0f0f0;transform:scaleX(0.818);transform-origin:0 0;">PBUS</div>
<div class="a" style="left:968px;top:637px;width:18px;height:18px;background:#f050f0;border:1px solid rgba(0,0,0,0.35);box-shadow:inset -1px -1px 0 rgba(0,0,0,0.2)"></div>
<div class="a" style="left:1032px;top:638px;width:17px;height:17px;background:linear-gradient(#7ee0a8,#40c080);border:1px solid #2a8858;border-radius:2px"></div>
<svg style="left:1032px;top:638px" width="17" height="17"><path d="M4.5 8.5L7.3 11.2L12.5 5.8" fill="none" stroke="#113322" stroke-width="1.8"/></svg>
<div class="a" style="left:1096px;top:638px;width:17px;height:17px;background:linear-gradient(#7ee0a8,#40c080);border:1px solid #2a8858;border-radius:2px"></div>
<svg style="left:1096px;top:638px" width="17" height="17"><path d="M4.5 8.5L7.3 11.2L12.5 5.8" fill="none" stroke="#113322" stroke-width="1.8"/></svg>
<div class="t" style="left:898.23px;top:675px;font-size:16.6px;font-weight:normal;font-family:'Liberation Sans',sans-serif;color:#f0f0f0;transform:scaleX(0.922);transform-origin:0 0;">CAP</div>
<div class="a" style="left:968px;top:674px;width:18px;height:18px;background:#ff5000;border:1px solid rgba(0,0,0,0.35);box-shadow:inset -1px -1px 0 rgba(0,0,0,0.2)"></div>
<div class="a" style="left:1032px;top:674px;width:18px;height:18px;background:#c8e6fb;border:1px solid #9cc4e4;border-radius:1px"></div>
<div class="a" style="left:1095px;top:674px;width:18px;height:18px;background:#c8e6fb;border:1px solid #9cc4e4;border-radius:1px"></div>
<div class="t" style="left:897.03px;top:712px;font-size:16.6px;font-weight:normal;font-family:'Liberation Sans',sans-serif;color:#f0f0f0;transform:scaleX(0.921);transform-origin:0 0;">NRG</div>
<div class="a" style="left:968px;top:710px;width:18px;height:18px;background:#ffa800;border:1px solid rgba(0,0,0,0.35);box-shadow:inset -1px -1px 0 rgba(0,0,0,0.2)"></div>
<div class="a" style="left:1032px;top:710px;width:18px;height:18px;background:#c8e6fb;border:1px solid #9cc4e4;border-radius:1px"></div>
<div class="a" style="left:1095px;top:710px;width:18px;height:18px;background:#c8e6fb;border:1px solid #9cc4e4;border-radius:1px"></div>
<div class="a" style="left:1156px;top:574px;width:221px;height:117px;border:1px solid #e6e6e6"></div>
<div class="a" style="left:1164px;top:572px;width:120.40000000000009px;height:5px;background:#383838"></div>
<div class="t" style="left:1164.68px;top:568px;font-size:15.3px;font-weight:normal;font-family:'Liberation Sans',sans-serif;color:#f0f0f0;transform:scaleX(0.961);transform-origin:0 0;">Image Processing</div>
<div class="a" style="left:1171px;top:600px;width:15px;height:14px;background:#f4f4f4;border-radius:3px"></div>
<div class="t" style="left:1193.26px;top:598px;font-size:17.2px;font-weight:normal;font-family:'Liberation Sans',sans-serif;color:#e0e0e0;transform:scaleX(0.848);transform-origin:0 0;">Zoom freely</div>
<div class="a" style="left:1156px;top:708px;width:221px;height:132px;border:1px solid #e6e6e6"></div>
<div class="a" style="left:1164px;top:706px;width:96.40000000000009px;height:5px;background:#383838"></div>
<div class="t" style="left:1164.86px;top:702px;font-size:15.3px;font-weight:normal;font-family:'Liberation Sans',sans-serif;color:#f0f0f0;transform:scaleX(0.928);transform-origin:0 0;">File operations</div>
<div class="a" style="left:1166px;top:727px;width:200px;height:31px;background:#545454;border:2px solid #868686;border-radius:5px"></div>
<div class="t" style="left:1257.77px;top:735px;font-size:16.3px;font-weight:normal;font-family:'Liberation Sans',sans-serif;color:#f0f0f0;transform:scaleX(0.893);transform-origin:0 0;">Open</div>
<div class="a" style="left:1166px;top:764px;width:200px;height:30px;background:#545454;border:2px solid #868686;border-radius:5px"></div>
<div class="t" style="left:1259.30px;top:771px;font-size:16.3px;font-weight:normal;font-family:'Liberation Sans',sans-serif;color:#f0f0f0;transform:scaleX(0.861);transform-origin:0 0;">Save</div>
<div class="a" style="left:1166px;top:801px;width:200px;height:30px;background:#545454;border:2px solid #868686;border-radius:5px"></div>
<div class="t" style="left:1251.11px;top:808px;font-size:16.3px;font-weight:normal;font-family:'Liberation Sans',sans-serif;color:#f0f0f0;transform:scaleX(1.017);transform-origin:0 0;">Import</div>
<svg style="left:1237px;top:733px" width="19" height="17"><path d="M1 3H7L9 5H17V15H1Z" fill="#e0a820"/><path d="M1 7H18L16 15H1Z" fill="#f8d048"/></svg>
<svg style="left:1239px;top:770px" width="17" height="17"><path d="M1 1H14L16 3V16H1Z" fill="#c8c0f0" stroke="#8a80c0" stroke-width="0.8"/><rect x="4" y="2" width="8" height="5" fill="#f8f8ff"/><rect x="4" y="10" width="9" height="5" fill="#e8a0b0"/></svg>
<svg style="left:1232px;top:806px" width="20" height="19"><ellipse cx="9" cy="4" rx="7" ry="2.8" fill="#d8d0f0"/><path d="M2 4V14A7 2.8 0 0 0 16 14V4A7 2.8 0 0 1 2 4Z" fill="#b8b0e0"/><path d="M2 8A7 2.8 0 0 0 16 8M2 11A7 2.8 0 0 0 16 11" stroke="#e8e4f8" fill="none" stroke-width="1"/><path d="M13 14L17 14L15 17Z" fill="#40a080"/></svg>
</body></html>
